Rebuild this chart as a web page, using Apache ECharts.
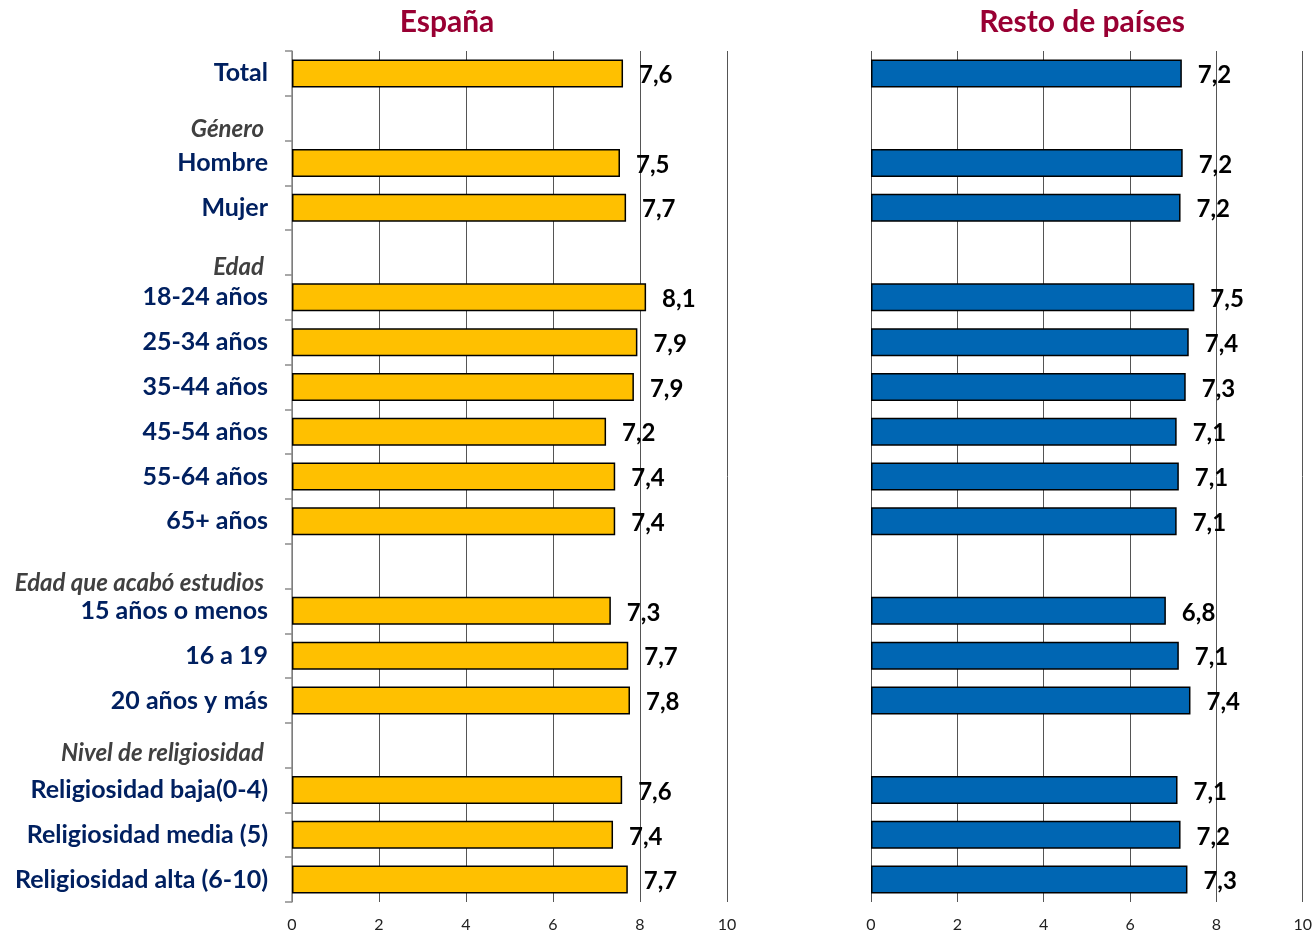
<!DOCTYPE html>
<html>
<head>
<meta charset="utf-8">
<script src="https://cdn.jsdelivr.net/npm/echarts@6/dist/echarts.min.js"></script>
<style>
  html, body { margin: 0; padding: 0; background: #fff; }
  #chart { width: 1315px; height: 934px; }
</style>
</head>
<body>
<div id="chart"></div>
<script>
// categories (top to bottom); group headers sit in the empty rows
var categories = ['Total', 'Género', 'Hombre', 'Mujer', 'Edad', '18-24 años', '25-34 años',
  '35-44 años', '45-54 años', '55-64 años', '65+ años', 'Edad que acabó estudios',
  '15 años o menos', '16 a 19', '20 años y más', 'Nivel de religiosidad',
  'Religiosidad baja(0-4)', 'Religiosidad media (5)', 'Religiosidad alta (6-10)'];
var headers = ['Género', 'Edad', 'Edad que acabó estudios', 'Nivel de religiosidad'];

var espana = [7.61, '-', 7.54, 7.68, '-', 8.14, 7.94, 7.86, 7.22, 7.43, 7.43, '-',
  7.33, 7.73, 7.77, '-', 7.59, 7.38, 7.72];
var resto = [7.20, '-', 7.22, 7.17, '-', 7.49, 7.36, 7.29, 7.08, 7.13, 7.08, '-',
  6.83, 7.13, 7.40, '-', 7.10, 7.17, 7.33];

var panelTitles = ['España', 'Resto de países'];
var xTicks = [0, 2, 4, 6, 8, 10];

var FONT = 'Lato, "Open Sans", sans-serif';

// small vertical shift of each header text in its empty row
var headerShift = { 'Género': 22, 'Edad': 30, 'Edad que acabó estudios': 34, 'Nivel de religiosidad': 16 };

function valueLabel(p) {
  return p.value.toFixed(1).replace('.', ',');
}

function xAxis(idx) {
  return {
    gridIndex: idx,
    type: 'value',
    min: xTicks[0],
    max: xTicks[xTicks.length - 1],
    interval: 2,
    axisLine: { show: false },
    axisTick: { show: false },
    axisLabel: { color: '#222', fontFamily: FONT, fontSize: 16, margin: 15 },
    splitLine: { show: true, lineStyle: { color: '#555', width: 1 } }
  };
}

function barSeries(idx, data, color) {
  return {
    type: 'bar',
    xAxisIndex: idx,
    yAxisIndex: idx,
    data: data,
    barWidth: 28,
    itemStyle: { color: color, borderColor: '#000', borderWidth: 1.5 },
    label: {
      show: true,
      position: 'right',
      distance: 16,
      offset: [0, 2],
      formatter: valueLabel,
      color: '#000',
      fontFamily: FONT,
      fontWeight: 'bold',
      fontSize: 24
    }
  };
}

var option = {
  animation: false,
  backgroundColor: '#fff',
  title: [
    { text: panelTitles[0], left: 442, top: 2, textAlign: 'center',
      textStyle: { color: '#990033', fontFamily: FONT, fontWeight: 'bold', fontSize: 30 } },
    { text: panelTitles[1], left: 1077, top: 2, textAlign: 'center',
      textStyle: { color: '#990033', fontFamily: FONT, fontWeight: 'bold', fontSize: 30 } }
  ],
  grid: [
    { left: 292, right: 588, top: 51, bottom: 32 },
    { left: 871, right: 9, top: 51, bottom: 32 }
  ],
  xAxis: [xAxis(0), xAxis(1)],
  yAxis: [
    {
      gridIndex: 0,
      type: 'category',
      data: categories,
      inverse: true,
      axisLine: { show: true, lineStyle: { color: '#8c8c8c', width: 1.5 } },
      axisTick: { show: true, length: 7, lineStyle: { color: '#8c8c8c', width: 1.5 } },
      axisLabel: {
        margin: 24,
        formatter: function (v) {
          if (headers.indexOf(v) >= 0) {
            return '{h' + headerShift[v] + '|' + v + '}';
          }
          return '{c|' + v + '}';
        },
        rich: (function () {
          var r = {
            c: { color: '#002060', fontFamily: FONT, fontWeight: 'bold', fontSize: 25 }
          };
          Object.keys(headerShift).forEach(function (k) {
            r['h' + headerShift[k]] = {
              color: '#404040', fontFamily: FONT, fontWeight: 'bold', fontStyle: 'italic',
              fontSize: 24, padding: [headerShift[k], 4, 0, 0]
            };
          });
          return r;
        })()
      }
    },
    {
      gridIndex: 1,
      type: 'category',
      data: categories,
      inverse: true,
      axisLine: { show: false },
      axisTick: { show: false },
      axisLabel: { show: false }
    }
  ],
  series: [
    barSeries(0, espana, '#FFC000'),
    barSeries(1, resto, '#0066B3')
  ]
};

var chart = echarts.init(document.getElementById('chart'));
chart.setOption(option);
</script>
</body>
</html>
